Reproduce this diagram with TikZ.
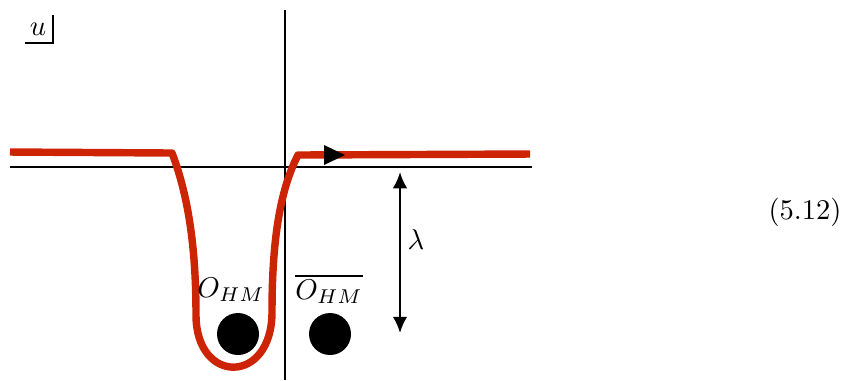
\documentclass[tikz,border=0pt]{standalone}
\usepackage{tikz}
\usetikzlibrary{arrows.meta,positioning,calc}
\definecolor{rougeC}{RGB}{204,36,4}
\tikzset{
  axe/.style={line width=1pt, draw=black},
  boucle/.style={line width=2.6pt, draw=rougeC, line join=round},
  arr/.style={{Latex[length=2mm,width=1.8mm]}-{Latex[length=2mm,width=1.8mm]}, line width=0.85pt},
  bille/.style={circle, fill=black, minimum size=14.7pt, inner sep=0pt},
}

\begin{document}
\begin{tikzpicture}[x=0.35pt,y=-0.35pt]
        \useasboundingbox (0,0) rectangle (842,380);
        % axes
        \draw[axe] (10,167) -- (532,167);
        \draw[axe] (285,10) -- (285,380);
        % u
        \node (u) at (38,29) {$u$};
        \draw[line width=0.8pt] (25,43) -- (53,43) -- (53,15);
        % contour
        \draw[boucle] (10,152) -- (172,153)
          .. controls (190,200) and (196,255) .. (196,315)
          .. controls (196,385) and (272,385) .. (272,312)
          .. controls (272,240) and (280,190) .. (298,155) -- (530,154);
        \fill (324,145) -- (345,155) -- (324,165) -- cycle;
        % charges
        \node[bille] (o1) at (238,334) {};
        \node[bille] (o2) at (330,334) {};
        \node (l1) at (231,290) {$O_{HM}$};
        \node (l2) at (329,289) {$\overline{O_{HM}}$};
        % lambda
        \coordinate (ht) at (400,172);
        \coordinate (bs) at (400,333);
        \draw[arr] (ht) -- (bs);
        \node (lam) at (416,240) {$\lambda$};
        \node (eq) at (805,212) {(5.12)};
      \end{tikzpicture}
\end{document}
